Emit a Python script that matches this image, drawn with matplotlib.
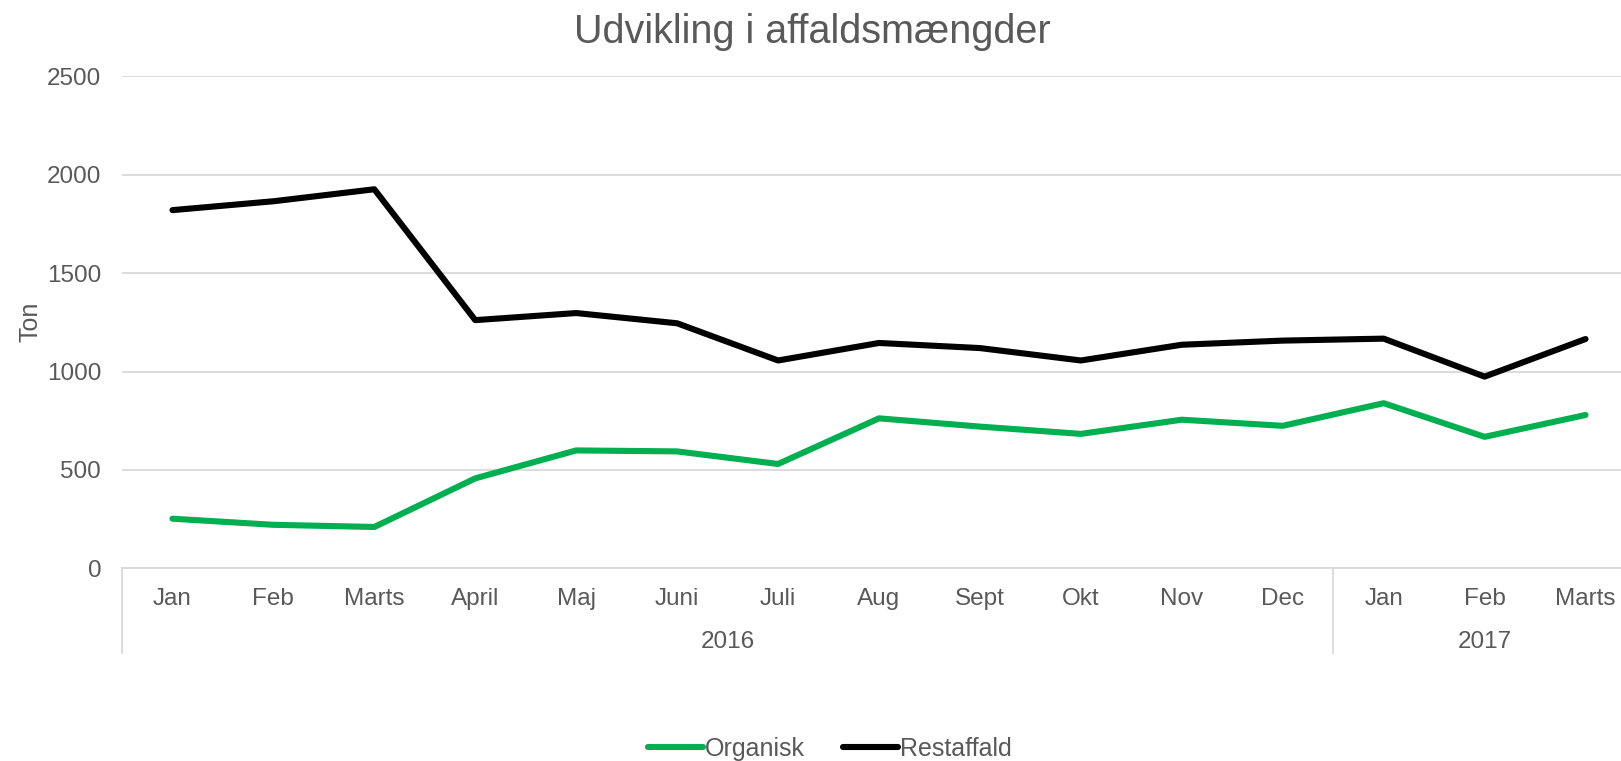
import matplotlib.pyplot as plt
from matplotlib.lines import Line2D

plt.rcParams['font.family'] = ['Liberation Sans', 'DejaVu Sans']

# data (tons per month)
months = ["Jan", "Feb", "Marts", "April", "Maj", "Juni", "Juli", "Aug",
          "Sept", "Okt", "Nov", "Dec", "Jan", "Feb", "Marts"]
years = ["2016", "2017"]
months_per_year = [12, 3]
organisk = [252, 221, 210, 457, 599, 594, 530, 762, 720, 683, 755, 724, 839, 668, 779]
restaffald = [1820, 1865, 1926, 1261, 1297, 1245, 1056, 1145, 1119, 1056, 1136, 1157, 1167, 974, 1165]

TEXT = '#595959'
GRID = '#D9D9D9'
GREEN = '#00B050'
LW = 4.4

W, H = 1621, 761
fig = plt.figure(figsize=(W / 100, H / 100), dpi=100)

# axes box in pixels (extends a little past the right edge, as in the original)
left, right, top, bottom = 122, 1636, 76.3, 568.3
ax = fig.add_axes([left / W, 1 - bottom / H, (right - left) / W, (bottom - top) / H])

x = list(range(len(months)))
ax.plot(x, organisk, color=GREEN, lw=LW, solid_capstyle='round', solid_joinstyle='round')
ax.plot(x, restaffald, color='black', lw=LW, solid_capstyle='round', solid_joinstyle='round')

ax.set_xlim(-0.5, len(months) - 0.5)
ax.set_ylim(0, 2500)
ax.set_yticks([0, 500, 1000, 1500, 2000, 2500])
ax.yaxis.grid(True, color=GRID, lw=1.3)
ax.set_axisbelow(True)

for s in ['top', 'right', 'left']:
    ax.spines[s].set_visible(False)
ax.spines['bottom'].set_color(GRID)
ax.spines['bottom'].set_linewidth(1.3)

ax.set_xticks(x)
ax.set_xticklabels(months)
ax.tick_params(axis='x', length=0, pad=14.5, labelsize=17.5, labelcolor=TEXT)
ax.tick_params(axis='y', length=0, pad=15, labelsize=17.5, labelcolor=TEXT)

ax_w = right - left
ax_h = bottom - top
ax.set_ylabel('Ton', fontsize=18, color=TEXT)
ax.yaxis.set_label_coords((42 - left) / ax_w, 0.5)

# year grouping under the month labels
trans = ax.get_xaxis_transform()
start = -0.5
bounds = [start]
for n, yr in zip(months_per_year, years):
    end = start + n
    ax.text((start + end) / 2, -73.5 / ax_h, yr, transform=trans, ha='center', va='center',
            fontsize=17.5, color=TEXT)
    start = end
    bounds.append(end)
for b in bounds[:-1]:
    ax.plot([b, b], [0, -85 / ax_h], transform=trans, color=GRID, lw=1.3, clip_on=False)

fig.text(812 / W, 1 - 32 / H, 'Udvikling i affaldsmængder', ha='center', va='center',
         fontsize=28.5, color=TEXT)

handles = [Line2D([], [], color=GREEN, lw=LW, solid_capstyle='round'),
           Line2D([], [], color='black', lw=LW, solid_capstyle='round')]
leg = fig.legend(handles, ['Organisk', 'Restaffald'], loc='center',
                 bbox_to_anchor=(830 / W, 1 - 749 / H), ncol=2, frameon=False,
                 fontsize=18, handlelength=2.2, handletextpad=0.1, columnspacing=1.5,
                 borderpad=0, borderaxespad=0)
for t in leg.get_texts():
    t.set_color(TEXT)

fig.savefig('out.png', dpi=100)
